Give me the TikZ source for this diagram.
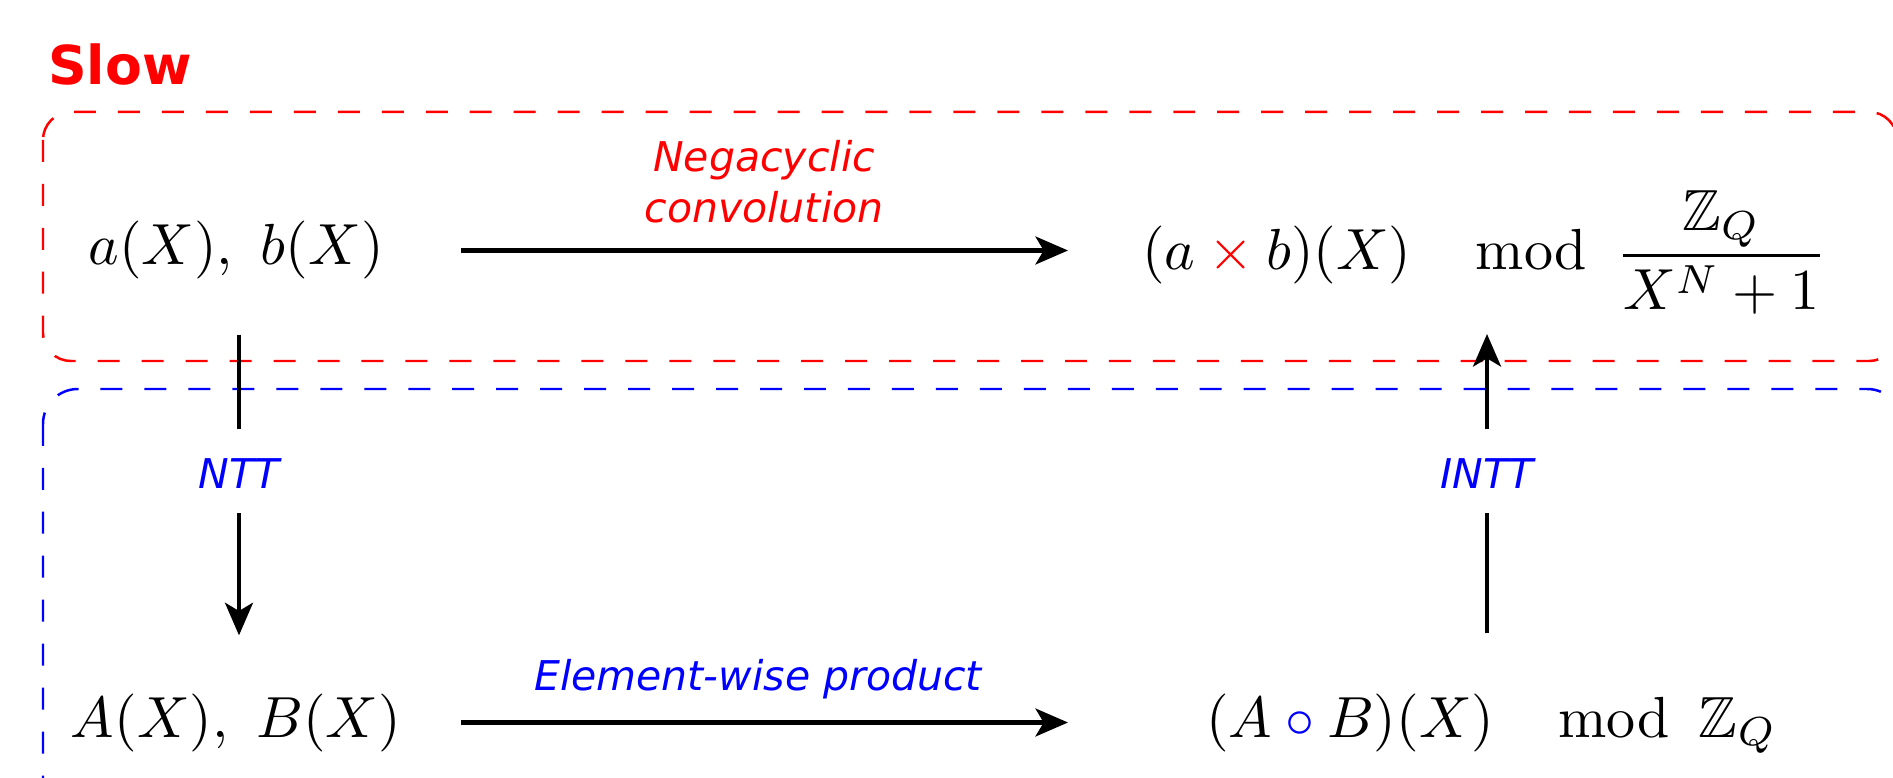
\documentclass[tikz,border=0pt]{standalone}
\usepackage{amsmath,amssymb}
\usepackage[no-math]{fontspec}
\setmainfont{DejaVu Sans}[ItalicFont={DejaVu Sans Oblique},BoldFont={DejaVu Sans Bold}]
\usetikzlibrary{arrows.meta,calc}
\newcommand{\modsp}{\mkern20mu\mathrm{mod}\mkern9mu}
\begin{document}
\begin{tikzpicture}[x=0.1724pt, y=-0.1724pt,
  lbl/.style={font=\fontsize{7.07}{8.8}\selectfont\itshape, inner sep=0pt},
  mth/.style={inner sep=0pt, font=\fontsize{10}{12}\selectfont},
  conn/.style={line width=0.78pt},
  arr/.style={line width=0.78pt, -{Stealth[length=5.6pt,width=4.8pt,inset=1.4pt]}},
  boxline/.style={dash pattern=on 3.79pt off 3.79pt, line width=0.43pt},
  slowbox/.style={boxline, draw=red, rounded corners=4.8pt},
  fastbox/.style={boxline, draw=blue, rounded corners=6pt}]
\useasboundingbox (0,0) rectangle (1893,778);
\clip (0,0) rectangle (1893,778);

% regions
\draw[slowbox] (43,112) rectangle (1897,361);
\draw[fastbox] (43,389) rectangle (1902,830);
\node[anchor=base west, inner sep=0pt, text=red, font=\fontsize{9.25}{10}\selectfont\bfseries] (slow) at (47,85) {Slow};

% math nodes
\node[mth, anchor=base] (a) at (236,265) {$a(X),\ b(X)$};
\node[mth, anchor=base west] (ab) at (1141,270) {$\displaystyle (a \mathbin{\textcolor{red}{\times}} b)(X) \modsp {\frac{\mathbb{Z}_Q}{X^N+1}}$};
\node[mth, anchor=base] (A) at (236,737) {$A(X),\ B(X)$};
\node[mth, anchor=base west] (AB) at (1205,737) {$(A \mathbin{\textcolor{blue}{\circ}} B)(X) \modsp \mathbb{Z}_Q$};

% labels
\node[lbl, text=red, align=center] (neg) at (764,182) {Negacyclic\\convolution};
\node[lbl, text=blue, anchor=base] (elem) at (758,690) {Element-wise product};
\node[lbl, text=blue, anchor=base] (ntt) at (239,488) {NTT};
\node[lbl, text=blue, anchor=base] (intt) at (1487,488) {INTT};

% connectors
\draw[arr] ($(a.east)+(76,0)$) -- ($(a.east -| ab.west)+(-73,0)$);
\draw[arr] ($(A.east)+(59,0)$) -- ($(A.east -| AB.west)+(-137,0)$);
\draw[conn] ($(ntt.base |- a.south)+(0,54)$) -- ($(ntt.base)+(0,-59)$);
\draw[arr] ($(ntt.base)+(0,25)$) -- ($(ntt.base |- A.north)+(0,-57)$);
\draw[conn] ($(intt.base |- AB.north)+(0,-59)$) -- ($(intt.base)+(0,25)$);
\draw[arr] ($(intt.base)+(0,-59)$) -- ($(intt.base)+(0,-154)$);
\end{tikzpicture}
\end{document}
